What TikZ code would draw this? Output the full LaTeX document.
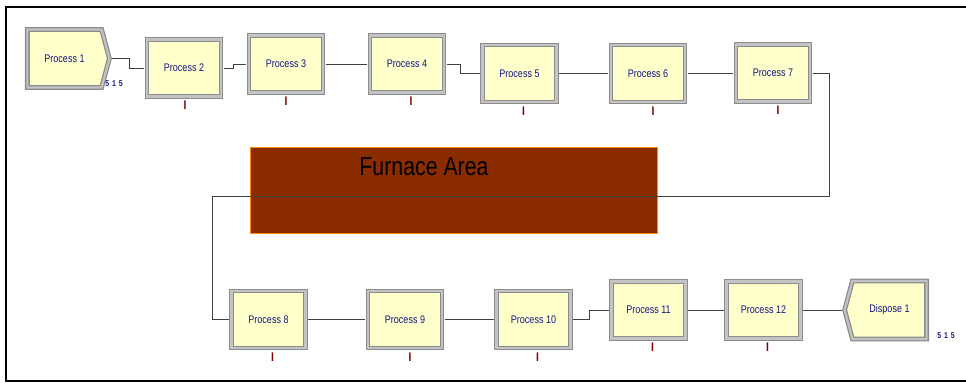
\documentclass[tikz,border=0pt]{standalone}
\usepackage{fontspec}
\usetikzlibrary{shapes.symbols}
\newfontfamily\arenafont[FakeStretch=0.82]{Liberation Sans}
\definecolor{arenafill}{RGB}{255,255,204}
\definecolor{arenatext}{RGB}{20,20,130}
\definecolor{arenaframe}{RGB}{140,140,140}
\definecolor{arenabevel}{RGB}{195,195,195}
\definecolor{counterred}{RGB}{128,0,0}
\definecolor{furnacefill}{RGB}{139,44,0}
\definecolor{furnaceedge}{RGB}{255,140,0}

\begin{document}
\begin{tikzpicture}[x=1pt, y=-1pt,
      proc/.style={draw=arenaframe, double=arenabevel, double distance=2.2pt,
                   line width=1.3pt, fill=arenafill,
                   minimum width=74pt, minimum height=57pt, inner sep=0pt,
                   font=\arenafont\fontsize{11}{11}\selectfont, text=arenatext},
      ends/.style={proc, shape=signal, signal pointer angle=150,
                   minimum width=82pt, minimum height=58pt},
      cnt/.style={font=\arenafont\bfseries\fontsize{12.5}{12.5}\selectfont,
                  text=counterred, inner sep=0pt},
      tally/.style={font=\arenafont\bfseries\fontsize{8.5}{8.5}\selectfont,
                    text=arenatext, inner sep=0pt},
      conn/.style={draw=black!75, line width=0.9pt,
                   shorten <=2pt, shorten >=2pt},
      furnace/.style={draw=furnaceedge, fill=furnacefill, line width=0.8pt,
                      minimum width=407pt, minimum height=86pt, inner sep=0pt},
    ]
    \useasboundingbox (0,0) rectangle (966,383);
    %% outer frame
    \draw[line width=1.8pt] (966,7) -- (6,7) -- (6,381) -- (966,381);
    %% furnace area
    \node[furnace] (furnace) at (454,190.5) {};
    \node[font=\arenafont\fontsize{26}{26}\selectfont, inner sep=0pt]
      (furnacelbl) at (424,167) {Furnace Area};
    %% top row
    \node[ends, signal to=east] (p1) at (64.5,58.5) {Process 1};
    \node[proc] (p2) at (184,68) {Process 2};
    \node[proc] (p3) at (286,64) {Process 3};
    \node[proc] (p4) at (407,64) {Process 4};
    \node[proc] (p5) at (519.5,73.5) {Process 5};
    \node[proc] (p6) at (648,73.5) {Process 6};
    \node[proc] (p7) at (773,73) {Process 7};
    %% bottom row
    \node[proc] (p8) at (268.5,319.5) {Process 8};
    \node[proc] (p9) at (405,319.5) {Process 9};
    \node[proc] (p10) at (533.5,319.5) {Process 10};
    \node[proc] (p11) at (648.5,310) {Process 11};
    \node[proc] (p12) at (763.5,310) {Process 12};
    \node[ends, signal to=west] (d1) at (889.5,310) {Dispose 1};
    %% counters below the processes
    \foreach \n/\dx in {p2/1,p3/0,p4/4,p5/4,p6/5,p7/5,p8/4,p9/5,p10/4,p11/4,p12/4}{
      \node[cnt, anchor=north] (\n-cnt) at ([xshift=\dx pt, yshift=-4pt]\n.south) {I};
    }
    \node[tally] (p1-tally) at (114,84) {5\,\,1\,\,5};
    \node[tally] (d1-tally) at (946,336) {5\,\,1\,\,5};
    %% connectors
    \coordinate (turnR) at (829,196);
    \coordinate (turnL) at (212,196);
    \draw[conn] (p1.east) -- ++(19,0) |- (p2.west);
    \draw[conn] (p2.east) -- ++(12,0) |- (p3.west);
    \draw[conn] (p3.east) -- (p4.west);
    \draw[conn] (p4.east) -- ++(16,0) |- (p5.west);
    \draw[conn] (p5.east) -- ++(26,0) |- (p6.west);
    \draw[conn] (p6.east) -- ++(23,0) |- (p7.west);
    \draw[conn] (p7.east) -| (turnR) -- (turnL) |- (p8.west);
    \draw[conn] (p8.east) -- ++(29,0) |- (p9.west);
    \draw[conn] (p9.east) -- ++(25,0) |- (p10.west);
    \draw[conn] (p10.east) -- ++(18,0) |- (p11.west);
    \draw[conn] (p11.east) -- (p12.west);
    \draw[conn] (p12.east) -- (d1.west);
\end{tikzpicture}
\end{document}
